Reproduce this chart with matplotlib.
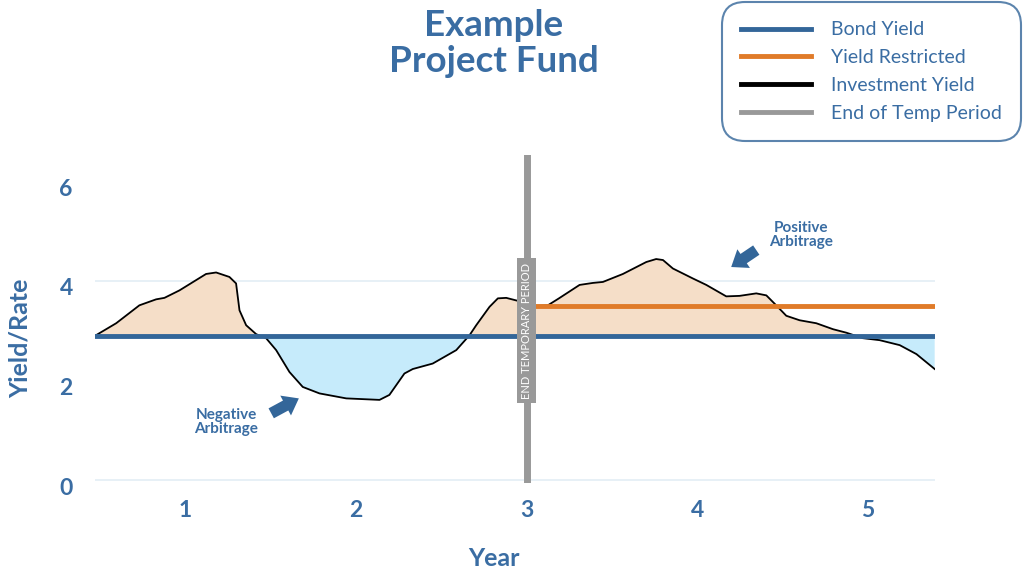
import matplotlib
matplotlib.use("Agg")
import numpy as np
import matplotlib.pyplot as plt
import matplotlib.transforms as mtransforms
from matplotlib.lines import Line2D

plt.rcParams["font.family"] = ["Lato", "DejaVu Sans"]

blue = "#336699"
text_blue = "#3a6da3"
orange = "#e07b29"
grey = "#999999"

# investment yield curve
years = [0.476, 0.594, 0.73, 0.828, 0.877, 0.965, 1.121, 1.18, 1.258, 1.297,
         1.317, 1.356, 1.415, 1.473, 1.532, 1.61, 1.688, 1.786, 1.943, 2.138,
         2.196, 2.284, 2.333, 2.45, 2.588, 2.666, 2.705, 2.783, 2.832, 2.881,
         2.949, 3.0, 3.06, 3.125, 3.19, 3.311, 3.389, 3.448, 3.565, 3.702,
         3.76, 3.80, 3.858, 3.975, 4.054, 4.171, 4.249, 4.347, 4.406, 4.464,
         4.523, 4.601, 4.699, 4.797, 4.875, 4.972, 5.07, 5.188, 5.286, 5.393]
invest_yield = [2.91, 3.15, 3.51, 3.63, 3.66, 3.81, 4.14, 4.17, 4.08, 3.95,
                3.41, 3.11, 2.93, 2.85, 2.61, 2.17, 1.87, 1.74, 1.64, 1.61,
                1.71, 2.14, 2.23, 2.34, 2.61, 2.91, 3.11, 3.48, 3.65, 3.66,
                3.60, 3.55, 3.50, 3.51, 3.65, 3.92, 3.96, 3.98, 4.14, 4.38,
                4.44, 4.42, 4.25, 4.05, 3.92, 3.69, 3.70, 3.75, 3.71, 3.51,
                3.30, 3.21, 3.15, 3.03, 2.96, 2.85, 2.81, 2.71, 2.53, 2.23]
bond_yield = 2.9
yield_restricted = 3.5
temp_end = 3.0

x = np.array(years)
y = np.array(invest_yield)

fig = plt.figure(figsize=(10.24, 5.75), dpi=100)
ax = fig.add_axes([0.0928, 0.16, 0.8203, 0.5704])

ax.fill_between(x, y, bond_yield, where=y >= bond_yield, interpolate=True,
                color="#f5dec8", lw=0, zorder=1)
ax.fill_between(x, y, bond_yield, where=y <= bond_yield, interpolate=True,
                color="#c6ebfb", lw=0, zorder=1)
ax.plot(x, y, color="black", lw=1.3, zorder=3, solid_joinstyle="round")
ax.axhline(bond_yield, color=blue, lw=3.5, zorder=4)
ax.plot([temp_end, x[-1]], [yield_restricted, yield_restricted], color=orange, lw=3.5, zorder=4)
ax.axvline(temp_end, color=grey, lw=5, zorder=5)
ax.text(temp_end, 3.0, "END TEMPORARY PERIOD", rotation=90, ha="center", va="center",
        color="white", fontsize=8, zorder=6,
        bbox=dict(boxstyle="square,pad=0.4", facecolor=grey, edgecolor="none"))

for yg in [0, 4]:
    ax.axhline(yg, color="#e3edf5", lw=1.2, zorder=0)

arrow_style = "simple,head_length=0.6,head_width=0.9,tail_width=0.45"
ax.annotate("", xy=(1.665, 1.64), xytext=(1.503, 1.34),
            arrowprops=dict(arrowstyle=arrow_style, color=blue, lw=0, mutation_scale=18,
                            shrinkA=0, shrinkB=0))
ax.text(1.24, 1.17, "Negative\nArbitrage", ha="center", va="center", color=text_blue,
        fontsize=11, fontweight="bold", linespacing=0.95)
ax.annotate("", xy=(4.20, 4.28), xytext=(4.347, 4.62),
            arrowprops=dict(arrowstyle=arrow_style, color=blue, lw=0, mutation_scale=18,
                            shrinkA=0, shrinkB=0))
ax.text(4.607, 4.92, "Positive\nArbitrage", ha="center", va="center", color=text_blue,
        fontsize=11, fontweight="bold", linespacing=0.95)

ax.set_xlim(0.47, 5.395)
ax.set_ylim(-0.06, 6.53)
ax.set_xticks([1, 2, 3, 4, 5])
ax.set_yticks([0, 2, 4, 6])
ax.tick_params(length=0, labelsize=16.5, labelcolor=text_blue)
ax.tick_params(axis="x", pad=12)
ax.tick_params(axis="y", pad=16)
shift = mtransforms.ScaledTranslation(0, -6 / 100, fig.dpi_scale_trans)
for lab in ax.get_yticklabels():
    lab.set_transform(lab.get_transform() + shift)
for lab in ax.get_xticklabels() + ax.get_yticklabels():
    lab.set_fontweight("bold")
for s in ax.spines.values():
    s.set_visible(False)

ax.set_xlabel("Year", fontsize=18, fontweight="bold", color=text_blue)
ax.xaxis.set_label_coords(0.475, -0.195)
ax.set_ylabel("Yield/Rate", fontsize=18, fontweight="bold", color=text_blue)
ax.yaxis.set_label_coords(-0.075, 0.44)

fig.text(0.482, 0.925, "Example\nProject Fund", ha="center", va="center", color=text_blue,
         fontsize=26.5, fontweight="bold", linespacing=1.12)

handles = [Line2D([], [], color=blue, lw=3.5),
           Line2D([], [], color=orange, lw=3.5),
           Line2D([], [], color="black", lw=3.5),
           Line2D([], [], color=grey, lw=3.5)]
labels = ["Bond Yield", "Yield Restricted", "Investment Yield", "End of Temp Period"]
leg = fig.legend(handles, labels, loc="upper right", bbox_to_anchor=(1021 / 1024, 1 - 2 / 575),
                 fontsize=14, handlelength=3.6, handletextpad=1.0, labelspacing=0.55,
                 borderpad=1.0, borderaxespad=0, fancybox=True, frameon=True)
for t in leg.get_texts():
    t.set_color(text_blue)
frame = leg.get_frame()
frame.set_edgecolor(blue)
frame.set_linewidth(1.5)
frame.set_boxstyle("round,pad=0,rounding_size=1.2")

fig.savefig("out.png", dpi=100)
